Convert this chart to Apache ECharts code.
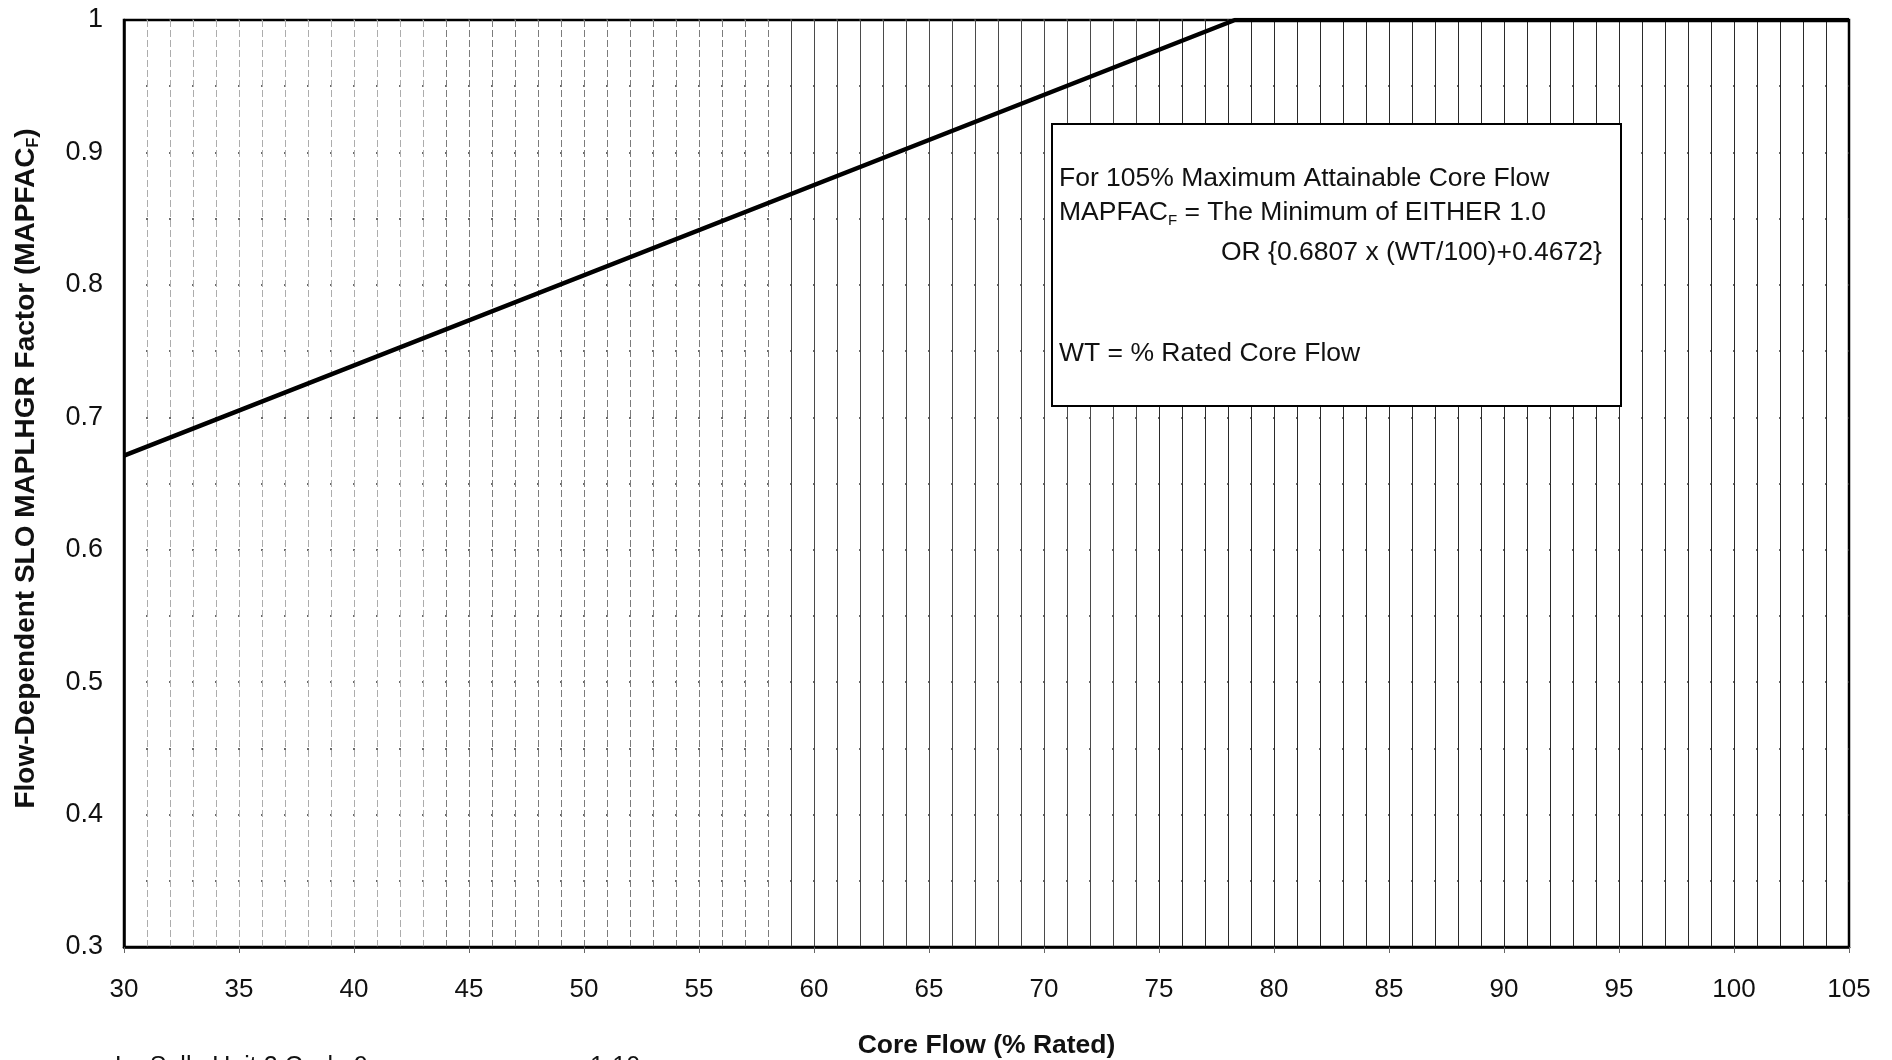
<!DOCTYPE html>
<html>
<head>
<meta charset="utf-8">
<title>Flow-Dependent SLO MAPLHGR Factor</title>
<script src="https://cdn.jsdelivr.net/npm/echarts@6/dist/echarts.min.js"></script>
<style>
  html, body { margin: 0; padding: 0; background: #fff; }
  #chart { width: 1892px; height: 1060px; }
</style>
</head>
<body>
<div id="chart"></div>
<script>
// Limit curve: MAPFAC_F = min(1.0, 0.6807 * WT/100 + 0.4672)
const coreFlow = [30, 78.3, 105];          // % rated core flow
const mapfacF  = [0.671, 1.0, 1.0];        // flow-dependent factor

const xTickValues = [30, 35, 40, 45, 50, 55, 60, 65, 70, 75, 80, 85, 90, 95, 100, 105];
const yTickValues = [0.3, 0.4, 0.5, 0.6, 0.7, 0.8, 0.9, 1];

const noteLines = [
  'For 105% Maximum Attainable Core Flow',
  '{t|MAPFAC}{s|F}{t| = The Minimum of EITHER 1.0}',
  'OR {0.6807 x (WT/100)+0.4672}',
  'WT = % Rated Core Flow'
];

const FONT = '"Liberation Sans", Arial, Helvetica, sans-serif';
const X_MIN = 30, X_MAX = 105;

// Hatching: one vertical rule per 1% of flow, lighter and broken on the low-flow side
const dashedHatch = [], solidHatch = [];
for (let v = X_MIN; v <= X_MAX; v++) {
  const inner = v > X_MIN && v < X_MAX;
  dashedHatch.push(inner && v <= 58 ? (v < 44 ? '#adadad' : '#7c7c7c') : 'transparent');
  solidHatch.push(inner && v > 58 ? (v < 75 ? '#4a4a4a' : '#2a2a2a') : 'transparent');
}

function hatchAxis(colors, type) {
  return {
    type: 'value', gridIndex: 0, position: 'bottom',
    min: X_MIN, max: X_MAX, interval: 1,
    axisLine: { show: false }, axisTick: { show: false }, axisLabel: { show: false },
    splitLine: { show: true, lineStyle: { color: colors, width: 1, type: type } }
  };
}

const pts = coreFlow.map((x, i) => [x, mapfacF[i]]);
const dotGrid = { color: '#3a3a3a', width: 1.6, type: [2, 21], dashOffset: 1 };

const chart = echarts.init(document.getElementById('chart'), null, { renderer: 'canvas' });
chart.setOption({
  animation: false,
  backgroundColor: '#ffffff',
  textStyle: { fontFamily: FONT },
  grid: {
    left: 124, right: 43, top: 20, bottom: 113,
    containLabel: false, outerBoundsMode: 'none',
    show: true, borderColor: '#000', borderWidth: 2.5, backgroundColor: '#fff'
  },
  xAxis: [
    {
      type: 'value', min: X_MIN, max: X_MAX, interval: 5,
      name: 'Core Flow (% Rated)', nameLocation: 'middle', nameGap: 85,
      nameTextStyle: { fontFamily: FONT, fontSize: 26.5, fontWeight: 'bold', color: '#111' },
      axisLine: { show: true, lineStyle: { color: '#000', width: 2.5 } },
      axisTick: { show: true, length: 6, lineStyle: { color: '#666', width: 1 } },
      axisLabel: {
        customValues: xTickValues,
        fontFamily: FONT, fontSize: 26, color: '#111', margin: 30
      },
      splitLine: { show: false }
    },
    hatchAxis(dashedHatch, [7, 3]),
    hatchAxis(solidHatch, 'solid')
  ],
  yAxis: {
    type: 'value', min: 0.3, max: 1, interval: 0.1,
    name: '{t|Flow-Dependent SLO MAPLHGR Factor (MAPFAC}{s|F}{t|)}',
    nameLocation: 'middle', nameGap: 82,
    nameTextStyle: {
      padding: [0, 0, 0, 30],
      rich: {
        t: { fontFamily: FONT, fontSize: 28, fontWeight: 'bold', color: '#111', lineHeight: 32 },
        s: { fontFamily: FONT, fontSize: 16, fontWeight: 'bold', color: '#111', lineHeight: 25, verticalAlign: 'bottom' }
      }
    },
    axisLine: { show: true, lineStyle: { color: '#000', width: 2.5 } },
    axisTick: { show: false },
    axisLabel: {
      customValues: yTickValues,
      fontFamily: FONT, fontSize: 27, color: '#111', margin: 21,
      formatter: v => String(Math.round(v * 10) / 10)
    },
    splitLine: { show: true, lineStyle: dotGrid },
    minorTick: { show: false, splitNumber: 2 },
    minorSplitLine: { show: true, lineStyle: dotGrid }
  },
  series: [{
    type: 'line',
    xAxisIndex: 0,
    data: pts,
    symbol: 'none',
    clip: true,
    lineStyle: { color: '#000', width: 4.5 },
    z: 5
  }],
  graphic: [
    {
      type: 'rect', z: 10,
      shape: { x: 1052, y: 124, width: 569, height: 282 },
      style: { fill: '#fff', stroke: '#000', lineWidth: 2 }
    },
    {
      type: 'text', z: 11, x: 1059, y: 179,
      style: { text: noteLines[0], font: '26.5px ' + FONT, fill: '#111', verticalAlign: 'middle' }
    },
    {
      type: 'text', z: 11, x: 1059, y: 213,
      style: {
        text: noteLines[1], verticalAlign: 'middle', fill: '#111',
        rich: {
          t: { font: '26.5px ' + FONT, fill: '#111', lineHeight: 30 },
          s: { font: '15px ' + FONT, fill: '#111', lineHeight: 24, verticalAlign: 'bottom' }
        }
      }
    },
    {
      type: 'text', z: 11, x: 1221, y: 253,
      style: { text: noteLines[2], font: '26.5px ' + FONT, fill: '#111', verticalAlign: 'middle' }
    },
    {
      type: 'text', z: 11, x: 1059, y: 354,
      style: { text: noteLines[3], font: '26.5px ' + FONT, fill: '#111', verticalAlign: 'middle' }
    },
    {
      type: 'text', x: 115, y: 1067,
      style: { text: 'La Salle Unit 2 Cycle 9', font: '25px ' + FONT, fill: '#111', verticalAlign: 'middle' }
    },
    {
      type: 'text', x: 590, y: 1067,
      style: { text: '1-10', font: '25px ' + FONT, fill: '#111', verticalAlign: 'middle' }
    }
  ]
});
</script>
</body>
</html>
